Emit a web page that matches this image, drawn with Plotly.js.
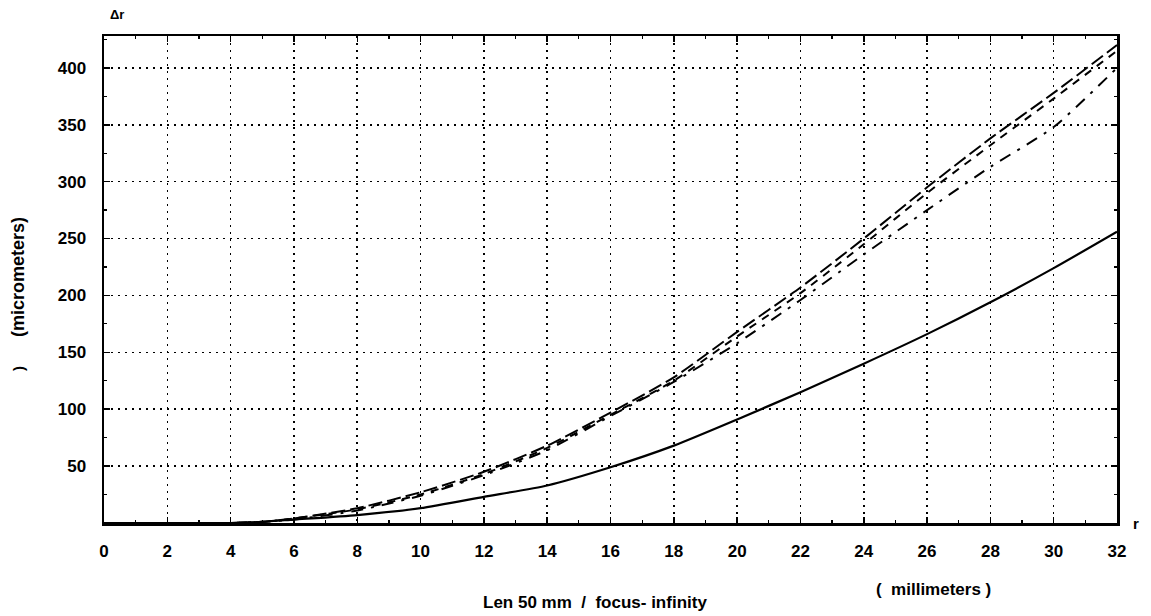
<!DOCTYPE html>
<html>
<head>
<meta charset="utf-8">
<script src="https://cdn.plot.ly/plotly-3.0.1.min.js"></script>
<style>
html,body{margin:0;padding:0;background:#fff;}
#chart{width:1151px;height:616px;}
</style>
</head>
<body>
<div id="chart"></div>
<script>
// Radius r (millimeters)
const rValues = [0, 2, 4, 5, 6, 8, 10, 12, 14, 16, 18, 20, 22, 24, 26, 28, 30, 32];
// Delta r (micrometers) for each curve
const solidCurve   = [0, 0, 0, 1, 3, 7, 13, 23, 33, 49, 68, 91, 115, 140, 166, 194, 224, 256];
const dashCurveA   = [0, 0, 0, 1, 4, 13, 27, 45, 68, 97, 128, 168, 207, 250, 295, 338, 378, 420];
const dashCurveB   = [0, 0, 0, 1, 4, 12, 25, 43, 66, 95, 125, 164, 202, 245, 290, 332, 373, 415];
const dashDotCurve = [0, 0, 0, 1, 3, 11, 24, 42, 64, 94, 124, 158, 196, 236, 275, 313, 348, 400];
const xTickVals = [0, 2, 4, 6, 8, 10, 12, 14, 16, 18, 20, 22, 24, 26, 28, 30, 32];
const yTickVals = [50, 100, 150, 200, 250, 300, 350, 400];

const FONT = 'Liberation Sans, Arial, sans-serif';

const traces = [
  {x: rValues, y: solidCurve, mode: 'lines', line: {color: '#000', width: 2.2, shape: 'spline', smoothing: 0.6}},
  {x: rValues, y: dashCurveA, mode: 'lines', line: {color: '#000', width: 2, dash: '14px,5px', shape: 'spline', smoothing: 0.6}},
  {x: rValues, y: dashCurveB, mode: 'lines', line: {color: '#000', width: 2, dash: '8px,7px', shape: 'spline', smoothing: 0.6}},
  {x: rValues, y: dashDotCurve, mode: 'lines', line: {color: '#000', width: 2, dash: '12px,8px,3px,8px', shape: 'spline', smoothing: 0.6}}
];

const layout = {
  width: 1151, height: 616,
  margin: {l: 104, r: 34, t: 36, b: 93},
  paper_bgcolor: '#fff', plot_bgcolor: '#fff',
  showlegend: false,
  font: {family: FONT, color: '#000', size: 17, weight: 'bold'},
  xaxis: {
    range: [0, 32], tickvals: xTickVals, ticktext: xTickVals.map(String),
    showline: true, linewidth: 2.5, linecolor: '#000', mirror: 'allticks',
    ticks: 'inside', ticklen: 6, tickwidth: 1.5, tickcolor: '#000',
    showgrid: true, gridcolor: '#000', gridwidth: 1.6, griddash: '2px,5px',
    zeroline: false, ticklabelstandoff: 11,
    tickfont: {family: FONT, size: 17, color: '#000', weight: 'bold'},
    minor: {dtick: 1, ticks: 'inside', ticklen: 3, tickwidth: 1.2, tickcolor: '#000', showgrid: false}
  },
  yaxis: {
    range: [0, 428], tickvals: yTickVals, ticktext: yTickVals.map(String),
    showline: true, linewidth: 2.5, linecolor: '#000', mirror: 'allticks',
    ticks: 'inside', ticklen: 6, tickwidth: 1.5, tickcolor: '#000',
    showgrid: true, gridcolor: '#000', gridwidth: 1.6, griddash: '2px,5px',
    zeroline: false, ticklabelstandoff: 12,
    tickfont: {family: FONT, size: 17, color: '#000', weight: 'bold'},
    minor: {dtick: 25, ticks: 'inside', ticklen: 3, tickwidth: 1.2, tickcolor: '#000', showgrid: false}
  },
  annotations: [
    {text: 'Δr', xref: 'paper', yref: 'paper', x: 0.0128, y: 1.045, xanchor: 'center', yanchor: 'middle', showarrow: false,
     font: {family: FONT, size: 13, weight: 'bold'}},
    {text: 'r', xref: 'paper', yref: 'paper', x: 1.019, y: 0.0, xanchor: 'center', yanchor: 'middle', showarrow: false,
     font: {family: FONT, size: 15, weight: 'bold'}},
    {text: '(micrometers)', xref: 'paper', yref: 'paper', x: -0.085, y: 0.505, xanchor: 'center', yanchor: 'middle', textangle: -90, showarrow: false,
     font: {family: FONT, size: 18, weight: 'bold'}},
    {text: ')', xref: 'paper', yref: 'paper', x: -0.085, y: 0.318, xanchor: 'center', yanchor: 'middle', textangle: -90, showarrow: false,
     font: {family: FONT, size: 15, weight: 'bold'}},
    {text: 'Len 50 mm  /  focus- infinity', xref: 'paper', yref: 'paper', x: 0.485, y: -0.164, xanchor: 'center', yanchor: 'middle', showarrow: false,
     font: {family: FONT, size: 17, weight: 'bold'}},
    {text: '(  millimeters )', xref: 'paper', yref: 'paper', x: 0.819, y: -0.136, xanchor: 'center', yanchor: 'middle', showarrow: false,
     font: {family: FONT, size: 17, weight: 'bold'}}
  ]
};

Plotly.newPlot('chart', traces, layout, {displayModeBar: false, staticPlot: true});
</script>
</body>
</html>
